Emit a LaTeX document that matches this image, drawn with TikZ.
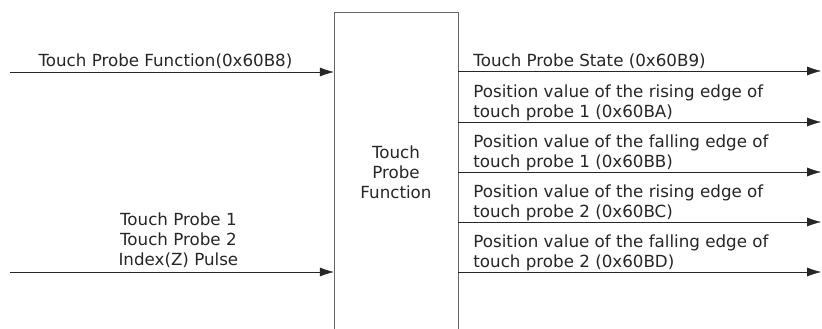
\documentclass[tikz,border=0pt]{standalone}
\usepackage{fontspec}
\setmainfont{DejaVu Sans}
\usetikzlibrary{arrows.meta, positioning}

\tikzset{
  sig/.style={draw=black!85, -{Latex[length=14pt,width=9pt]}},
  txtfont/.style={font=\fontsize{16.7}{20}\selectfont, text=black!85},
  lbl/.style={txtfont, inner sep=0pt, text depth=0pt},
}

\begin{document}
\begin{tikzpicture}[x=1pt,y=-1pt]
  \useasboundingbox (0,0) rectangle (822,329);
  \clip (0,0) rectangle (822,329);

  % Function block
  \node[draw=black!60, minimum width=124pt, minimum height=320pt, align=center, txtfont] (tpf) at (396,172) {Touch\\Probe\\Function};

  % Inputs
  \coordinate (in1) at (10,72);
  \coordinate (in2) at (10,272);
  \draw[sig] (in1) -- (in1 -| tpf.west) node[pos=0.48, above=5pt, lbl] (lblin1) {Touch Probe Function(0x60B8)};
  \draw[sig] (in2) -- (in2 -| tpf.west) node[pos=0.52, above=6pt, lbl, align=center] (lblin2) {Touch Probe 1\\Touch Probe 2\\Index(Z) Pulse};

  % Outputs
  \foreach \y/\txt [count=\i] in {71/{Touch Probe State (0x60B9)},
      122/{Position value of the rising edge of\\touch probe 1 (0x60BA)},
      172/{Position value of the falling edge of\\touch probe 1 (0x60BB)},
      222/{Position value of the rising edge of\\touch probe 2 (0x60BC)},
      272/{Position value of the falling edge of\\touch probe 2 (0x60BD)}}{
    \coordinate (out\i) at (821,\y);
    \draw[sig] (tpf.east |- out\i) -- (out\i);
    \node[lbl, align=left, anchor=south west] (lblout\i) at ([xshift=15pt,yshift=4pt]tpf.east |- out\i) {\txt};
  }
\end{tikzpicture}
\end{document}
